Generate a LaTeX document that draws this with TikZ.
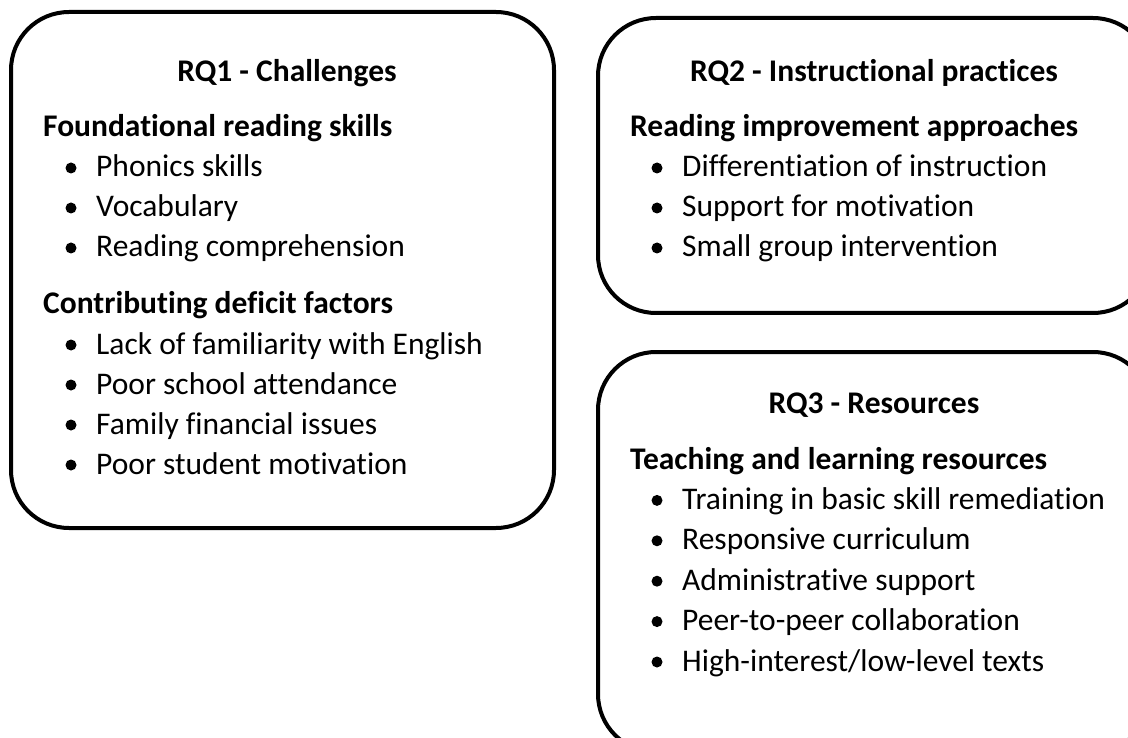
\documentclass[tikz,border=0pt]{standalone}
\usepackage{fontspec}
\setmainfont{Carlito}[Ligatures=NoCommon]

\begin{document}
\begin{tikzpicture}[x=1pt,y=-1pt,
    box/.style={line width=4pt, rounded corners=58pt},
    txt/.style={font=\fontsize{31.5}{38}\selectfont, inner sep=0pt},
    title/.style={txt, font=\fontsize{31.5}{38}\selectfont\bfseries, anchor=base},
    head/.style={txt, font=\fontsize{31.5}{38}\selectfont\bfseries, anchor=base west},
    item/.style={txt, anchor=base west},
    dot/.style={circle, fill=black, inner sep=0pt, minimum size=11pt}]
  \useasboundingbox (0,0) rectangle (1128,738);
  \clip (0,0) rectangle (1128,738);

  % RQ1
  \draw[box] (11,12) rectangle (554,528);
  \node[title] (t1) at (287,82) {RQ1 - Challenges};
  \node[head] (h1) at (43,137) {Foundational reading skills};
  \foreach \s [count=\i] in {Phonics skills, Vocabulary, Reading comprehension} {
    \node[dot] (c\i dot) at (71,{137+40*\i-9}) {};
    \node[item] (c\i) at (96,{137+40*\i}) {\s};
  }
  \node[head] (h2) at (43,314) {Contributing deficit factors};
  \foreach \s [count=\i] in {Lack of familiarity with English, Poor school attendance,
      Family financial issues, Poor student motivation} {
    \node[dot] (f\i dot) at (71,{314+40*\i-9}) {};
    \node[item] (f\i) at (96,{314+40*\i}) {\s};
  }

  % RQ2
  \draw[box] (598,18) rectangle (1151,313);
  \node[title] (t2) at (874,82) {RQ2 - Instructional practices};
  \node[head] (h3) at (630,137) {Reading improvement approaches};
  \foreach \s [count=\i] in {Differentiation of instruction, Support for motivation,
      Small group intervention} {
    \node[dot] (p\i dot) at (657,{137+40*\i-9}) {};
    \node[item] (p\i) at (682,{137+40*\i}) {\s};
  }

  % RQ3
  \draw[box] (598,352) rectangle (1151,752);
  \node[title] (t3) at (874,413) {RQ3 - Resources};
  \node[head] (h4) at (630,469) {Teaching and learning resources};
  \foreach \s [count=\i] in {Training in basic skill remediation, Responsive curriculum,
      Administrative support, Peer-to-peer collaboration, High-interest/low-level texts} {
    \node[dot] (r\i dot) at (657,{469+40.4*\i-9}) {};
    \node[item] (r\i) at (682,{469+40.4*\i}) {\s};
  }
\end{tikzpicture}
\end{document}
